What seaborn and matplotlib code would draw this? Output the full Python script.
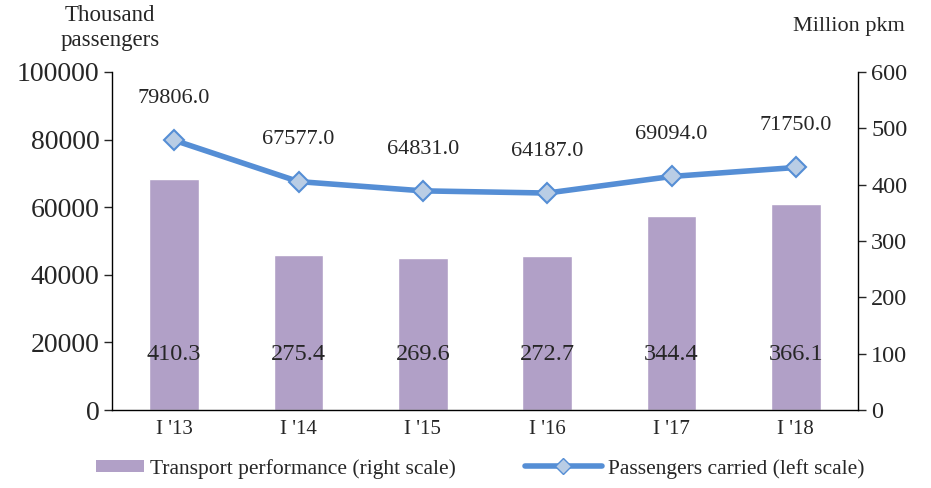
import matplotlib
matplotlib.use("Agg")
import matplotlib.pyplot as plt
import pandas as pd
import seaborn as sns
from matplotlib.legend_handler import HandlerPatch
from matplotlib.lines import Line2D
from matplotlib.patches import Patch, Rectangle

# data
periods = ["I '13", "I '14", "I '15", "I '16", "I '17", "I '18"]
passengers = [79806.0, 67577.0, 64831.0, 64187.0, 69094.0, 71750.0]
performance = [410.3, 275.4, 269.6, 272.7, 344.4, 366.1]

bar_color = "#B1A0C7"
line_color = "#558ED5"
marker_face = "#B9CDE5"

sns.set_style("white")
plt.rcParams["font.family"] = ["Liberation Serif", "DejaVu Serif"]

df = pd.DataFrame({"period": periods, "passengers": passengers, "performance": performance})

fig = plt.figure(figsize=(9.31, 4.88), dpi=100)
ax = fig.add_axes([0.1203, 0.1598, 0.8013, 0.6927])
ax2 = ax.twinx()

# bars on the right scale
sns.barplot(data=df, x="period", y="performance", color=bar_color, width=0.4,
            saturation=1, ax=ax2)
ax2.set_ylim(0, 600)
ax2.set_yticks(range(0, 601, 100))
for i, v in enumerate(performance):
    ax2.text(i, 98, f"{v:.1f}", ha="center", va="center", fontsize=17.5)

# line on the left scale, drawn above the bars
sns.lineplot(data=df, x="period", y="passengers", color=line_color, linewidth=4,
             marker="D", markersize=10, markerfacecolor=marker_face,
             markeredgecolor=line_color, markeredgewidth=1.5, sort=False, ax=ax)
ax.set_ylim(0, 100000)
ax.set_yticks(range(0, 100001, 20000))
for i, v in enumerate(passengers):
    ax.annotate(f"{v:.1f}", (i, v), xytext=(0, 30), textcoords="offset points",
                ha="center", va="center", fontsize=16)

ax.set_zorder(ax2.get_zorder() + 1)
ax.patch.set_visible(False)

ax.set_xlim(-0.5, 5.5)
ax.set_xlabel("")
ax.set_ylabel("")
ax2.set_ylabel("")
ax.set_xticks(range(6))
ax.set_xticklabels(periods, fontsize=15)
ax.set_xticks([i + 0.5 for i in range(-1, 6)], minor=True)
ax.tick_params(axis="x", which="major", length=0, pad=7)
ax.tick_params(axis="x", which="minor", length=6, direction="out", width=1)
ax.tick_params(axis="y", labelsize=20, length=6, direction="out", width=1, left=True, pad=3)
ax2.tick_params(axis="y", labelsize=17.5, length=6, direction="out", width=1, right=True)

for a in (ax, ax2):
    a.spines["top"].set_visible(False)
    for s in ("left", "right", "bottom"):
        a.spines[s].set_color("#000000")
        a.spines[s].set_linewidth(1)
ax.spines["right"].set_visible(False)
ax2.spines["left"].set_visible(False)
ax2.spines["bottom"].set_visible(False)

fig.text(0.118, 0.99, "Thousand\npassengers", ha="center", va="top", fontsize=16.5,
         linespacing=1.25)
fig.text(0.912, 0.965, "Million pkm", ha="center", va="top", fontsize=16)


def short_patch(legend, orig_handle, xdescent, ydescent, width, height, fontsize):
    # narrower swatch, right-aligned in the handle box
    w = width * 0.62
    return Rectangle((width - w - xdescent, -ydescent + height * 0.1), w, height * 0.8)


handles = [Patch(facecolor=bar_color, edgecolor="none"),
           Line2D([0], [0], color=line_color, linewidth=4, marker="D", markersize=8,
                  markerfacecolor=marker_face, markeredgecolor=line_color)]
fig.legend(handles, ["Transport performance (right scale)", "Passengers carried (left scale)"],
           loc="center", bbox_to_anchor=(0.5, 0.04), ncol=2, frameon=False, fontsize=15.5,
           handlelength=3.6, handletextpad=0.25, columnspacing=3.2,
           handler_map={Patch: HandlerPatch(patch_func=short_patch)})

fig.savefig("out.png", dpi=100)
